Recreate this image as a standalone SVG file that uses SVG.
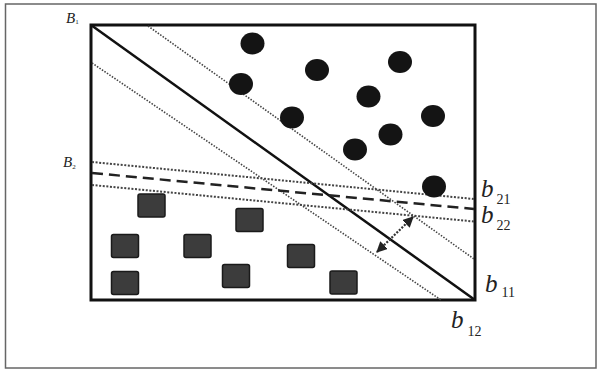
<svg xmlns="http://www.w3.org/2000/svg" width="597" height="370" viewBox="0 0 597 370">
<style>
.lbl{font-family:"Liberation Serif",serif;fill:#222}
.big{font-style:italic;font-size:25px}
.sub{font-size:14px}
.cap{font-style:italic;font-size:15px}
.dot{fill:none;stroke:#444;stroke-width:1.6;stroke-dasharray:1.5 1.5}
.hdot{fill:none;stroke:#444;stroke-width:2;stroke-dasharray:2 1.6}
.circ{fill:#141414}
.sq{fill:#3c3c3c;stroke:#1a1a1a;stroke-width:1.5}
</style>
<defs>
<marker id="ah" viewBox="0 0 10 10" refX="9" refY="5" markerWidth="5" markerHeight="5" orient="auto-start-reverse">
<path d="M0,0 L10,5 L0,10 z" fill="#222"/>
</marker>
</defs>
<rect x="5.5" y="4" width="590.5" height="364" fill="#fff" stroke="#666" stroke-width="1.5"/>
<g id="frame">
<rect x="91" y="25" width="384" height="275" fill="none" stroke="#111" stroke-width="3"/>
</g>
<g id="connectors">
<line x1="91" y1="25" x2="475" y2="300" stroke="#111" stroke-width="2.5"/>
<line class="dot" x1="148" y1="26" x2="474" y2="259"/>
<line class="dot" x1="92" y1="63" x2="441" y2="300"/>
<line class="hdot" x1="92" y1="162" x2="474" y2="199"/>
<line x1="92" y1="173" x2="474" y2="209" stroke="#222" stroke-width="2.5" stroke-dasharray="11 6"/>
<line class="hdot" x1="92" y1="185" x2="474" y2="221.5"/>
<line x1="413" y1="217" x2="377" y2="252" stroke="#333" stroke-width="2.2" stroke-dasharray="2 1.5" marker-start="url(#ah)" marker-end="url(#ah)"/>
</g>
<g id="circles">
<ellipse class="circ" cx="252.5" cy="43.5" rx="12" ry="11"/>
<ellipse class="circ" cx="317" cy="70" rx="12" ry="11"/>
<ellipse class="circ" cx="400" cy="62" rx="12" ry="11"/>
<ellipse class="circ" cx="241" cy="84" rx="12" ry="11"/>
<ellipse class="circ" cx="368.5" cy="96.5" rx="12" ry="11"/>
<ellipse class="circ" cx="292" cy="117.5" rx="12" ry="11"/>
<ellipse class="circ" cx="433" cy="116" rx="12" ry="11"/>
<ellipse class="circ" cx="390.5" cy="134.5" rx="12" ry="11"/>
<ellipse class="circ" cx="355" cy="149.5" rx="12" ry="11"/>
<ellipse class="circ" cx="434" cy="186.5" rx="12" ry="11"/>
</g>
<g id="squares">
<rect class="sq" x="138" y="194" width="27" height="23" rx="2"/>
<rect class="sq" x="236" y="208.5" width="27" height="23" rx="2"/>
<rect class="sq" x="111.5" y="234.5" width="27" height="23" rx="2"/>
<rect class="sq" x="184" y="234.5" width="27" height="23" rx="2"/>
<rect class="sq" x="287.5" y="244.5" width="27" height="23" rx="2"/>
<rect class="sq" x="111.5" y="271.5" width="27" height="23" rx="2"/>
<rect class="sq" x="222.5" y="264.5" width="27" height="23" rx="2"/>
<rect class="sq" x="330" y="271" width="27" height="23" rx="2"/>
</g>
<g id="label-B1"><text class="lbl" x="66" y="23"><tspan class="cap">B</tspan><tspan font-size="7" dy="1">1</tspan></text></g>
<g id="label-B2"><text class="lbl" x="63" y="167"><tspan class="cap">B</tspan><tspan font-size="7" dy="2">2</tspan></text></g>
<g id="label-b21"><text class="lbl" x="481" y="197"><tspan class="big">b</tspan><tspan class="sub" dx="3" dy="7">21</tspan></text></g>
<g id="label-b22"><text class="lbl" x="481" y="223"><tspan class="big">b</tspan><tspan class="sub" dx="3" dy="7">22</tspan></text></g>
<g id="label-b11"><text class="lbl" x="485" y="292"><tspan class="big">b</tspan><tspan class="sub" dx="4" dy="5">11</tspan></text></g>
<g id="label-b12"><text class="lbl" x="451" y="328"><tspan class="big">b</tspan><tspan class="sub" dx="4" dy="8">12</tspan></text></g>
</svg>
